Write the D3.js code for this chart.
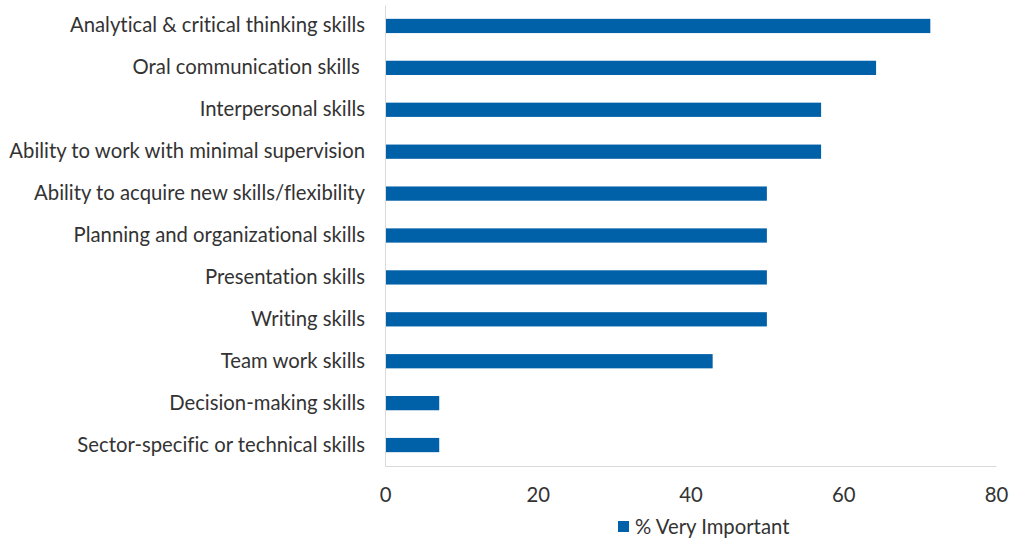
<!DOCTYPE html>
<html>
<head>
<meta charset="utf-8">
<script src="https://cdn.jsdelivr.net/npm/d3@7"></script>
<style>
  html, body { margin: 0; padding: 0; background: #fff; }
  svg text { font-family: Lato, "Open Sans", sans-serif; fill: #333; font-variant-ligatures: none; white-space: pre; }
</style>
</head>
<body>
<svg id="chart" width="1009" height="540"></svg>
<script>
// Skills rated "very important" (% of respondents)
const skills = [
  "Analytical & critical thinking skills",
  "Oral communication skills ",
  "Interpersonal skills",
  "Ability to work with minimal supervision",
  "Ability to acquire new skills/flexibility",
  "Planning and organizational skills",
  "Presentation skills",
  "Writing skills",
  "Team work skills",
  "Decision-making skills",
  "Sector-specific or technical skills"
];
const veryImportant = [71.4, 64.3, 57.1, 57.1, 50, 50, 50, 50, 42.9, 7.1, 7.1];
const xTicks = [0, 20, 40, 60, 80];
const seriesName = "% Very Important";

const svg = d3.select("#chart");
const margin = { left: 385, right: 13, top: 5, bottom: 74 };
const W = 1009, H = 540;
const fontSize = "20.3px";

const x = d3.scaleLinear().domain([0, 80]).range([margin.left, W - margin.right]);
const y = d3.scaleBand().domain(skills).range([margin.top, H - margin.bottom]).paddingInner(0.66).paddingOuter(0.33);

const barColor = "#0060A8";
const axisColor = "#d9d9d9";

// bars
svg.append("g").selectAll("rect")
  .data(skills.map((s, i) => ({ s, v: veryImportant[i] })))
  .join("rect")
  .attr("x", x(0))
  .attr("y", d => y(d.s))
  .attr("width", d => x(d.v) - x(0))
  .attr("height", y.bandwidth())
  .attr("fill", barColor);

// category axis
const yAxis = svg.append("g")
  .attr("transform", `translate(${x(0)},0)`)
  .call(d3.axisLeft(y).tickSize(0).tickPadding(20));
yAxis.select(".domain").attr("stroke", axisColor);
yAxis.selectAll("text").style("font-size", fontSize).attr("fill", "#333");

// value axis
const xAxis = svg.append("g")
  .attr("transform", `translate(0,${H - margin.bottom})`)
  .call(d3.axisBottom(x).tickValues(xTicks).tickSize(0).tickPadding(22));
xAxis.select(".domain").attr("stroke", axisColor);
xAxis.selectAll("text").style("font-size", fontSize).attr("fill", "#333");

// legend
const legend = svg.append("g").attr("transform", "translate(618,527)");
legend.append("rect").attr("x", 0).attr("y", -6).attr("width", 11).attr("height", 11).attr("fill", barColor);
legend.append("text").attr("x", 17).attr("y", 0).attr("dy", "0.35em")
  .style("font-size", fontSize).text(seriesName);
</script>
</body>
</html>
